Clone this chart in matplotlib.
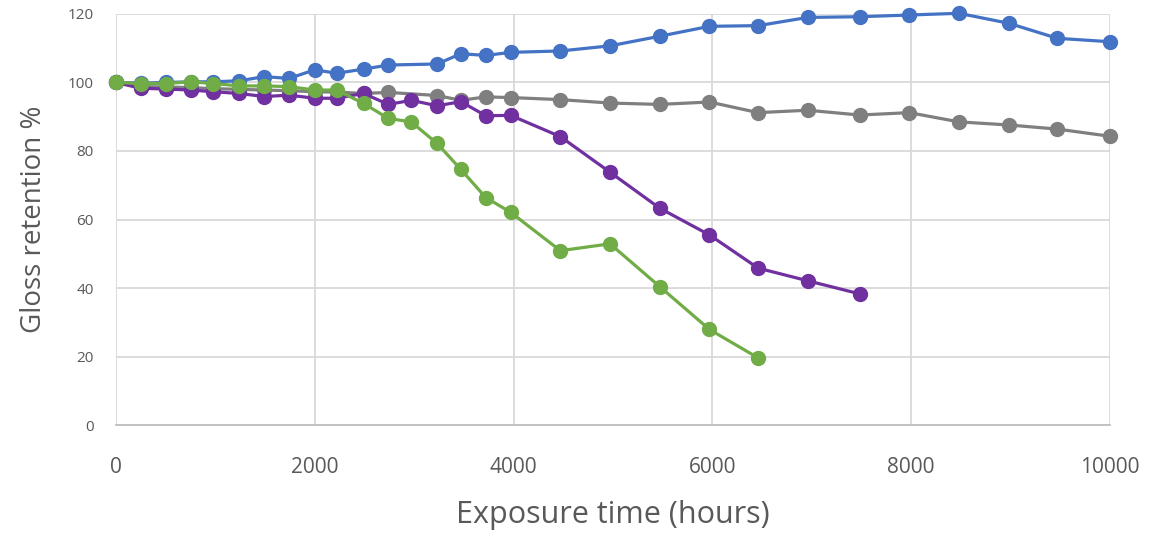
import numpy as np
import matplotlib
matplotlib.use("Agg")
import matplotlib.pyplot as plt

plt.rcParams['font.family'] = ['Open Sans', 'DejaVu Sans']

# exposure hours for each series
hours_a = [0, 250, 500, 750, 980, 1240, 1490, 1740, 2000, 2220, 2490, 2740,
           3230, 3470, 3720, 3970, 4470, 4970, 5470, 5970, 6460, 6960, 7480,
           7980, 8480, 8980, 9470, 10000]
hours_b = [0, 250, 500, 750, 980, 1240, 1490, 1740, 2000, 2220, 2490, 2740,
           2970, 3230, 3470, 3720, 3970, 4470, 4970, 5470, 5970, 6460, 6960, 7480]
hours_c = [0, 250, 500, 750, 980, 1240, 1490, 1740, 2000, 2220, 2490, 2740,
           2970, 3230, 3470, 3720, 3970, 4470, 4970, 5470, 5970, 6460]

blue = [100.0, 99.8, 100.0, 100.2, 100.2, 100.5, 101.7, 101.2, 103.7, 102.7,
        103.9, 105.1, 105.4, 108.4, 107.9, 108.8, 109.2, 110.7, 113.5, 116.4,
        116.6, 119.0, 119.2, 119.7, 120.2, 117.3, 112.9, 111.9]
gray = [100.0, 98.8, 98.7, 98.5, 98.2, 98.0, 97.8, 97.6, 97.3, 97.2, 96.8,
        97.1, 96.2, 94.8, 95.8, 95.6, 95.0, 94.0, 93.6, 94.3, 91.2, 91.9,
        90.5, 91.2, 88.5, 87.6, 86.4, 84.3]
purple = [100.0, 98.3, 98.1, 97.8, 97.3, 96.8, 95.9, 96.3, 95.4, 95.4, 96.8,
          93.6, 94.8, 93.2, 94.4, 90.3, 90.4, 84.2, 73.8, 63.3, 55.5, 45.8,
          42.1, 38.3]
green = [100.0, 99.7, 99.7, 100.2, 99.7, 99.0, 99.0, 98.8, 97.8, 97.8, 93.9,
         89.5, 88.5, 82.2, 74.6, 66.4, 62.1, 50.9, 52.9, 40.4, 27.9, 19.6]

xticks = [0, 2000, 4000, 6000, 8000, 10000]
yticks = [0, 20, 40, 60, 80, 100, 120]

fig = plt.figure(figsize=(11.51, 5.38), dpi=100)
ax = fig.add_axes([0.1008, 0.21, 0.8636, 0.764])

style = dict(marker='o', markersize=10, linewidth=2.3, clip_on=False)
ax.plot(hours_a, blue, color='#4472C4', zorder=3, **style)
ax.plot(hours_a, gray, color='#7F7F7F', zorder=4, **style)
ax.plot(hours_b, purple, color='#7030A0', zorder=5, **style)
ax.plot(hours_c, green, color='#70AD47', zorder=6, **style)

ax.set_xlim(0, 10000)
ax.set_ylim(0, 120)
ax.set_xticks(xticks)
ax.set_yticks(yticks)
ax.grid(True, color='#D9D9D9', linewidth=1.3)
ax.set_axisbelow(True)
for s in ['top', 'right', 'left']:
    ax.spines[s].set_visible(False)
ax.spines['bottom'].set_color('#BFBFBF')
ax.spines['bottom'].set_linewidth(1.3)
ax.tick_params(axis='both', length=0, colors='#595959')
ax.tick_params(axis='x', labelsize=15, pad=23)
ax.tick_params(axis='y', labelsize=11, pad=16)

ax.set_xlabel("Exposure time (hours)", fontsize=22, color='#595959', labelpad=16)
ax.set_ylabel("Gloss retention %", fontsize=20, color='#595959', labelpad=14)

fig.savefig("out.png", dpi=100)
